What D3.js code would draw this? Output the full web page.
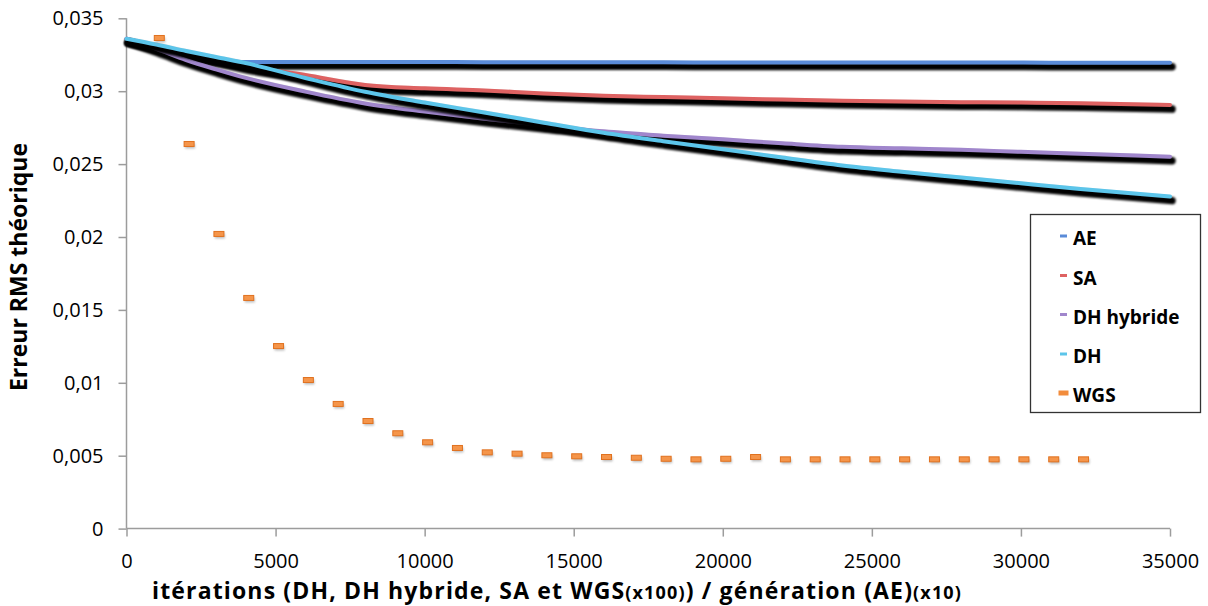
<!DOCTYPE html>
<html>
<head>
<meta charset="utf-8">
<script src="https://cdn.jsdelivr.net/npm/d3@7/dist/d3.min.js"></script>
<style>
  html, body { margin: 0; padding: 0; background: #fff; }
  svg { display: block; }
</style>
</head>
<body>
<svg id="chart" width="1208" height="606"></svg>
<script>
// ---------- DATA ----------
const iterations = [0, 1000, 2000, 3000, 4000, 6000, 8000, 10000, 12000, 14000, 16000, 18000, 20000, 22000, 24000, 26000, 28000, 30000, 32000, 35000];
const aeValues   = [0.0336, 0.0331, 0.0326, 0.0322, 0.0320, 0.03200, 0.03200, 0.03200, 0.03199, 0.03199, 0.03198, 0.03198, 0.03197, 0.03197, 0.03197, 0.03196, 0.03196, 0.03196, 0.03195, 0.03195];
const saValues   = [0.0336, 0.0331, 0.0327, 0.0322, 0.03173, 0.03111, 0.03043, 0.03020, 0.03005, 0.02985, 0.02969, 0.02960, 0.02951, 0.02943, 0.02935, 0.02930, 0.02925, 0.02922, 0.02918, 0.02905];
const dhHybValues= [0.0336, 0.0329, 0.03214, 0.0315, 0.03091, 0.02997, 0.02916, 0.02860, 0.02811, 0.02767, 0.02725, 0.02695, 0.02670, 0.02643, 0.02619, 0.02608, 0.02598, 0.02584, 0.02571, 0.02551];
const dhValues   = [0.0336, 0.0332, 0.03276, 0.03234, 0.03193, 0.03091, 0.02996, 0.02922, 0.02854, 0.02784, 0.02715, 0.02657, 0.02602, 0.02545, 0.02491, 0.02448, 0.02408, 0.02368, 0.02329, 0.02277];

const wgsIterations = [1100, 2100, 3100, 4100, 5100, 6100, 7100, 8100, 9100, 10100, 11100, 12100, 13100, 14100, 15100, 16100, 17100, 18100, 19100, 20100, 21100, 22100, 23100, 24100, 25100, 26100, 27100, 28100, 29100, 30100, 31100, 32100];
const wgsValues     = [0.03365, 0.02638, 0.02021, 0.01582, 0.01252, 0.01019, 0.00855, 0.00738, 0.00654, 0.00592, 0.00553, 0.00523, 0.00514, 0.00503, 0.00496, 0.00491, 0.00486, 0.00479, 0.00475, 0.00479, 0.00491, 0.00475, 0.00475, 0.00475, 0.00475, 0.00475, 0.00475, 0.00475, 0.00475, 0.00475, 0.00475, 0.00475];

const seriesNames = ["AE", "SA", "DH hybride", "DH", "WGS"];
const seriesColors = ["#5a8bd8", "#de6262", "#a086cc", "#5cc5ea", "#f28c3c"];

const xTickValues = [0, 5000, 10000, 15000, 20000, 25000, 30000, 35000];
const yTickValues = [0, 0.005, 0.01, 0.015, 0.02, 0.025, 0.03, 0.035];
const yTickLabels = ["0", "0,005", "0,01", "0,015", "0,02", "0,025", "0,03", "0,035"];

const yTitle = "Erreur RMS théorique";
const xTitleParts = [
  {t: "itérations (DH, DH hybride, SA et WGS", small: false},
  {t: "(x100)", small: true},
  {t: ") / génération (AE)", small: false},
  {t: "(x10)", small: true}
];

// ---------- LAYOUT ----------
const svg = d3.select("#chart");
const plotL = 126.5, plotR = 1170, plotT = 18.3, plotB = 528.6;
const x = d3.scaleLinear().domain([0, 35000]).range([plotL, plotR]);
const y = d3.scaleLinear().domain([0, 0.035]).range([plotB, plotT]);

const defs = svg.append("defs");
defs.append("filter").attr("id", "blur").attr("x", "-5%").attr("y", "-50%").attr("width", "110%").attr("height", "200%")
  .append("feGaussianBlur").attr("stdDeviation", 0.9);
defs.append("filter").attr("id", "mblur").attr("x", "-50%").attr("y", "-50%").attr("width", "200%").attr("height", "200%")
  .append("feGaussianBlur").attr("stdDeviation", 1.2);

svg.append("rect").attr("width", 1208).attr("height", 606).attr("fill", "#fff");

// axes
const axisColor = "#9c9c9c";
const yAxis = svg.append("g").attr("transform", `translate(${plotL},0)`)
  .call(d3.axisLeft(y).tickValues(yTickValues).tickSize(8).tickPadding(15)
    .tickFormat((d, i) => yTickLabels[i]));
const xAxis = svg.append("g").attr("transform", `translate(0,${plotB})`)
  .call(d3.axisBottom(x).tickValues(xTickValues).tickSize(8).tickPadding(17)
    .tickFormat(d => String(d)));
[yAxis, xAxis].forEach(g => {
  g.select(".domain").attr("stroke", axisColor).attr("stroke-width", 1.5);
  g.selectAll(".tick line").attr("stroke", axisColor).attr("stroke-width", 1.5);
  g.selectAll(".tick text").attr("fill", "#000").style("font-family", "'Open Sans', sans-serif").style("font-size", "20px");
});
yAxis.select(".domain").attr("d", `M0,${plotT}V${plotB}`);
xAxis.select(".domain").attr("d", `M${plotL},0H${plotR}`);

// lines
const lineGen = d3.line().x(d => x(d[0])).y(d => y(d[1])).curve(d3.curveMonotoneX);
const lineSeries = [aeValues, saValues, dhHybValues, dhValues];
const gLines = svg.append("g");
lineSeries.forEach((vals, i) => {
  const pts = iterations.map((it, k) => [it, vals[k]]);
  gLines.append("path").attr("d", lineGen(pts))
    .attr("fill", "none").attr("stroke", "#000").attr("stroke-width", 7.5)
    .attr("stroke-linecap", "round").attr("stroke-linejoin", "round")
    .attr("transform", "translate(2,4)").attr("filter", "url(#blur)");
  gLines.append("path").attr("d", lineGen(pts))
    .attr("fill", "none").attr("stroke", seriesColors[i]).attr("stroke-width", 4)
    .attr("stroke-linecap", "round").attr("stroke-linejoin", "round");
});

// WGS markers
const gW = svg.append("g");
wgsIterations.forEach((it, k) => {
  const cx = x(it), cy = y(wgsValues[k]);
  gW.append("rect").attr("x", cx - 5 + 1).attr("y", cy - 2.5 + 2).attr("width", 10).attr("height", 5)
    .attr("fill", "#888").attr("opacity", 0.55).attr("filter", "url(#mblur)");
  gW.append("rect").attr("x", cx - 5).attr("y", cy - 2.5).attr("width", 10).attr("height", 5)
    .attr("fill", "#f5954a").attr("stroke", "#e0711f").attr("stroke-width", 1);
});

// legend
const lg = svg.append("g");
lg.append("rect").attr("x", 1030.5).attr("y", 214.5).attr("width", 170).attr("height", 198)
  .attr("fill", "#fff").attr("stroke", "#333").attr("stroke-width", 1.3);
const legendY = [240, 279.5, 318.5, 358, 397];
seriesNames.forEach((name, i) => {
  const isW = name === "WGS";
  const w = isW ? 10 : 7, h = isW ? 5 : 3;
  lg.append("rect").attr("x", 1063.5 - w / 2).attr("y", legendY[i] - 4 - h / 2).attr("width", w).attr("height", h)
    .attr("fill", seriesColors[i]);
  lg.append("text").attr("x", 1073).attr("y", legendY[i] + 5)
    .style("font-family", "'Open Sans', sans-serif").style("font-weight", "bold").style("font-size", "19px")
    .attr("fill", "#000").text(name);
});

// axis titles
svg.append("text").attr("transform", "translate(27,267) rotate(-90)")
  .attr("text-anchor", "middle")
  .style("font-family", "'Open Sans', sans-serif").style("font-weight", "bold").style("font-size", "23px")
  .attr("fill", "#000").text(yTitle);

const xt = svg.append("text").attr("x", 152).attr("y", 599)
  .style("font-family", "'Open Sans', sans-serif").style("font-weight", "bold")
  .style("letter-spacing", "1.15px").attr("fill", "#000");
xTitleParts.forEach(p => {
  xt.append("tspan").style("font-size", p.small ? "18px" : "23px").text(p.t);
});
</script>
</body>
</html>
